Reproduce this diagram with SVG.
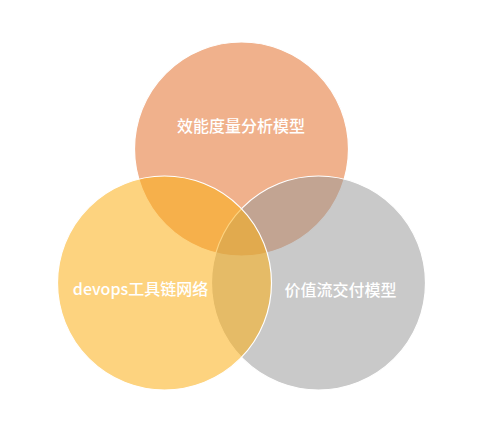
<svg xmlns="http://www.w3.org/2000/svg" width="487" height="426" viewBox="0 0 487 426">
  <style>
    .c { stroke: #ffffff; stroke-width: 1.2; }
    .t { font-family: "Noto Sans CJK SC", "Noto Sans", sans-serif; font-size: 16px; fill: #ffffff; text-anchor: middle; font-weight: 500; }
  </style>
  <rect width="487" height="426" fill="#ffffff"/>
  <g id="node-efficiency">
    <circle class="c" cx="241.5" cy="149" r="107" fill="#F0B18C"/>
  </g>
  <g id="node-valuestream">
    <circle class="c" cx="318.5" cy="283" r="107" fill="#979797" fill-opacity="0.52"/>
  </g>
  <g id="node-devops">
    <circle class="c" cx="164.5" cy="283" r="107" fill="#FBAF16" fill-opacity="0.55"/>
  </g>
  <g id="labels">
    <text class="t" x="241" y="132">效能度量分析模型</text>
    <text class="t" x="140.5" y="295">devops工具链网络</text>
    <text class="t" x="340.5" y="296">价值流交付模型</text>
  </g>
  <g id="connectors"/>
</svg>
